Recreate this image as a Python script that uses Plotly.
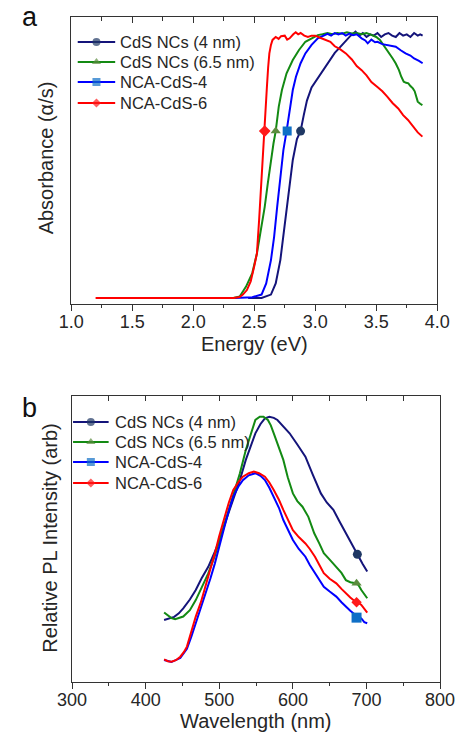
import plotly.graph_objects as go

# ---------------- data ----------------
series_names = ["CdS NCs (4 nm)", "CdS NCs (6.5 nm)", "NCA-CdS-4", "NCA-CdS-6"]
line_colors = ["#14147a", "#138a13", "#0000ff", "#ff0000"]
marker_colors = ["#1f3864", "#5b8c3e", "#0f6fc6", "#ff1a1a"]
marker_symbols = ["circle", "triangle-up", "square", "diamond"]

# Panel a: absorbance vs energy (eV)
abs_navy = [(2.45, 0.0), (2.56, 0.0), (2.637, 0.013), (2.676, 0.055), (2.714, 0.143), (2.739, 0.231),
            (2.765, 0.332), (2.791, 0.432), (2.816, 0.521), (2.85, 0.60), (2.88, 0.63), (2.906, 0.69),
            (2.932, 0.745), (2.97, 0.795), (3.0, 0.815), (3.04, 0.845), (3.08, 0.87), (3.12, 0.90),
            (3.16, 0.925), (3.2, 0.945), (3.25, 0.972), (3.29, 0.99), (3.33, 1.005), (3.36, 0.99),
            (3.39, 1.0), (3.42, 0.985), (3.45, 0.995), (3.48, 0.99), (3.51, 1.0), (3.54, 0.985),
            (3.57, 0.995), (3.6, 1.0), (3.63, 0.99), (3.66, 0.985), (3.69, 1.0), (3.72, 0.99),
            (3.75, 0.995), (3.78, 0.985), (3.81, 1.0), (3.84, 0.99), (3.86, 0.995), (3.88, 0.99)]
abs_green = [(2.33, 0.0), (2.381, 0.006), (2.433, 0.043), (2.484, 0.094), (2.522, 0.168), (2.56, 0.269),
             (2.586, 0.344), (2.611, 0.432), (2.637, 0.521), (2.658, 0.584), (2.676, 0.63), (2.701, 0.722),
             (2.727, 0.785), (2.765, 0.848), (2.816, 0.898), (2.867, 0.936), (2.919, 0.967), (2.97, 0.98),
             (3.021, 0.992), (3.06, 0.995), (3.10, 1.0), (3.14, 0.995), (3.18, 1.0), (3.22, 0.997),
             (3.26, 1.003), (3.30, 0.998), (3.34, 1.0), (3.38, 0.995), (3.42, 1.0), (3.46, 0.993),
             (3.50, 0.985), (3.53, 0.974), (3.56, 0.955), (3.584, 0.936), (3.61, 0.92), (3.635, 0.904),
             (3.66, 0.885), (3.686, 0.86), (3.705, 0.835), (3.725, 0.816), (3.745, 0.812), (3.763, 0.81),
             (3.78, 0.80), (3.80, 0.791), (3.815, 0.78), (3.83, 0.76), (3.84, 0.741), (3.86, 0.733),
             (3.878, 0.728)]
abs_blue = [(2.343, 0.0), (2.484, 0.003), (2.56, 0.013), (2.598, 0.055), (2.637, 0.143), (2.663, 0.231),
            (2.688, 0.344), (2.714, 0.458), (2.739, 0.558), (2.765, 0.63), (2.791, 0.709), (2.816, 0.785),
            (2.842, 0.835), (2.88, 0.886), (2.919, 0.923), (2.97, 0.955), (3.021, 0.98), (3.072, 0.992),
            (3.10, 0.997), (3.13, 0.99), (3.16, 1.0), (3.19, 0.995), (3.22, 1.0), (3.25, 0.99),
            (3.28, 0.998), (3.31, 0.992), (3.34, 0.995), (3.38, 0.98), (3.41, 0.972), (3.43, 0.961),
            (3.46, 0.975), (3.49, 0.965), (3.51, 0.967), (3.55, 0.958), (3.58, 0.955), (3.62, 0.952),
            (3.66, 0.948), (3.70, 0.935), (3.74, 0.923), (3.78, 0.915), (3.81, 0.904), (3.85, 0.895),
            (3.88, 0.886)]
abs_red = [(1.20, 0.0), (2.33, 0.0), (2.38, 0.004), (2.407, 0.013), (2.44, 0.03), (2.471, 0.063),
           (2.50, 0.12), (2.522, 0.168), (2.54, 0.294), (2.555, 0.42), (2.568, 0.546), (2.581, 0.63),
           (2.589, 0.70), (2.604, 0.797), (2.614, 0.87), (2.624, 0.923), (2.637, 0.955), (2.650, 0.974),
           (2.676, 0.985), (2.70, 0.978), (2.72, 0.988), (2.75, 0.99), (2.77, 0.975), (2.79, 0.98),
           (2.82, 0.995), (2.84, 1.003), (2.86, 0.995), (2.88, 1.0), (2.91, 0.99), (2.94, 0.985),
           (2.97, 0.99), (3.0, 0.99), (3.04, 0.982), (3.08, 0.975), (3.124, 0.967), (3.16, 0.95),
           (3.20, 0.94), (3.251, 0.923), (3.30, 0.90), (3.34, 0.875), (3.38, 0.86), (3.42, 0.84),
           (3.46, 0.815), (3.507, 0.797), (3.55, 0.78), (3.59, 0.76), (3.635, 0.735), (3.68, 0.715),
           (3.72, 0.69), (3.76, 0.672), (3.80, 0.65), (3.84, 0.625), (3.878, 0.609)]
abs_marker_x = [2.88, 2.676, 2.77, 2.586]
abs_marker_y = [0.63, 0.63, 0.63, 0.63]

# Panel b: PL intensity vs wavelength (nm)
pl_navy = [(425, 0.233), (432, 0.238), (438.7, 0.245), (445, 0.258), (451, 0.277), (460, 0.31),
           (468, 0.346), (476, 0.39), (485, 0.433), (494, 0.49), (502, 0.546), (510, 0.615),
           (519, 0.684), (528, 0.76), (536, 0.835), (543, 0.89), (549, 0.935), (556, 0.97),
           (562, 0.991), (568, 0.997), (574, 0.993), (579, 0.985), (587, 0.962), (595.5, 0.935),
           (606, 0.893), (617, 0.847), (627, 0.78), (638, 0.709), (646, 0.675), (655, 0.647),
           (663, 0.605), (672, 0.559), (680, 0.515), (689, 0.471), (695, 0.443), (701, 0.415)]
pl_green = [(425, 0.261), (430, 0.25), (435, 0.24), (440, 0.236), (446, 0.24), (451, 0.246),
            (460, 0.27), (468, 0.308), (476, 0.355), (485, 0.408), (494, 0.475), (502, 0.546),
            (510, 0.62), (519, 0.697), (528, 0.785), (536, 0.872), (543, 0.935), (549, 0.985),
            (555, 0.997), (560, 0.997), (566, 0.985), (570, 0.965), (574, 0.935), (580, 0.885),
            (587, 0.835), (593, 0.77), (600, 0.709), (606, 0.68), (613, 0.659), (621, 0.621),
            (629, 0.559), (636, 0.52), (642, 0.484), (650, 0.46), (659, 0.433), (666, 0.41),
            (672, 0.383), (678, 0.375), (685, 0.371), (689, 0.365), (693, 0.346), (697, 0.33),
            (701, 0.315)]
pl_blue = [(425, 0.083), (435, 0.075), (447, 0.09), (456, 0.125), (462, 0.17), (468, 0.221),
           (475, 0.275), (481, 0.333), (488, 0.39), (494, 0.446), (500, 0.515), (507, 0.584),
           (513, 0.645), (519, 0.697), (526, 0.735), (532, 0.759), (540, 0.777), (549, 0.785),
           (556, 0.775), (562, 0.759), (568, 0.73), (574, 0.697), (581, 0.655), (587, 0.609),
           (594, 0.57), (600, 0.534), (608, 0.5), (617, 0.471), (623, 0.44), (630, 0.409),
           (636, 0.38), (642, 0.358), (650, 0.34), (659, 0.321), (666, 0.3), (672, 0.283),
           (678, 0.268), (685, 0.252), (689, 0.245), (693, 0.239), (697, 0.225), (701, 0.221)]
pl_red = [(425, 0.085), (430, 0.078), (435, 0.076), (441, 0.082), (447, 0.095), (452, 0.113),
          (456, 0.133), (462, 0.19), (468, 0.246), (475, 0.30), (481, 0.358), (488, 0.42),
          (494, 0.484), (500, 0.55), (507, 0.621), (513, 0.675), (519, 0.722), (526, 0.752),
          (532, 0.772), (540, 0.785), (547, 0.791), (554, 0.785), (562, 0.772), (568, 0.75),
          (574, 0.722), (581, 0.685), (587, 0.647), (594, 0.605), (600, 0.571), (608, 0.545),
          (617, 0.521), (623, 0.5), (630, 0.471), (636, 0.44), (642, 0.409), (650, 0.388),
          (659, 0.371), (666, 0.35), (672, 0.333), (678, 0.318), (685, 0.302), (689, 0.298),
          (693, 0.29), (697, 0.275), (701, 0.261)]
pl_marker_x = [687.6, 686.5, 686.5, 686.5]
pl_marker_y = [0.48, 0.371, 0.242, 0.30]

energy_ticks = [1.0, 1.5, 2.0, 2.5, 3.0, 3.5, 4.0]
wavelength_ticks = [300, 400, 500, 600, 700, 800]

# ---------------- layout constants ----------------
W, H = 471, 736
FONT = "Arial, Liberation Sans, sans-serif"
TXT = "#262626"
AX = "#333333"

# legend key layout (page pixels): rows, line start/end, text start
LEG_A = dict(rows=[42, 62, 82, 103], x0=67, x1=107, text=110)
LEG_B = dict(rows=[422, 442, 462, 483], x0=62, x1=100, text=105)
SIZE_A = [9, 9, 9, 9]        # data marker sizes, panel a
SIZE_B = [9, 9, 10, 8]       # data marker sizes, panel b
SIZE_LEG = [8, 8, 8, 7]      # legend key marker sizes


def fx(p):
    return p / W


def fy(p):
    return 1 - p / H


fig = go.Figure()

abs_sets = [abs_navy, abs_green, abs_blue, abs_red]
pl_sets = [pl_navy, pl_green, pl_blue, pl_red]

for i in range(4):
    xs, ys = zip(*abs_sets[i])
    fig.add_trace(go.Scatter(x=list(xs), y=list(ys), mode="lines", xaxis="x", yaxis="y",
                             line=dict(color=line_colors[i], width=2), showlegend=False,
                             hoverinfo="skip"))
for i in range(4):
    fig.add_trace(go.Scatter(x=[abs_marker_x[i]], y=[abs_marker_y[i]], mode="markers",
                             xaxis="x", yaxis="y",
                             marker=dict(symbol=marker_symbols[i], color=marker_colors[i],
                                         size=SIZE_A[i], line=dict(width=0)),
                             showlegend=False, hoverinfo="skip"))
for i in range(4):
    xs, ys = zip(*pl_sets[i])
    fig.add_trace(go.Scatter(x=list(xs), y=list(ys), mode="lines", xaxis="x2", yaxis="y2",
                             line=dict(color=line_colors[i], width=2), showlegend=False,
                             hoverinfo="skip"))
for i in range(4):
    fig.add_trace(go.Scatter(x=[pl_marker_x[i]], y=[pl_marker_y[i]], mode="markers",
                             xaxis="x2", yaxis="y2",
                             marker=dict(symbol=marker_symbols[i], color=marker_colors[i],
                                         size=SIZE_B[i], line=dict(width=0)),
                             showlegend=False, hoverinfo="skip"))

# legend keys drawn on a full-page helper axis (page pixel coordinates)
annotations = []
for leg in (LEG_A, LEG_B):
    for i, row in enumerate(leg["rows"]):
        xm = (leg["x0"] + leg["x1"]) / 2
        fig.add_trace(go.Scatter(
            x=[leg["x0"], xm, leg["x1"]], y=[row] * 3,
            mode="lines+markers", xaxis="x5", yaxis="y5", showlegend=False, hoverinfo="skip",
            line=dict(color=line_colors[i], width=2),
            marker=dict(symbol=marker_symbols[i], color=marker_colors[i],
                        size=[0, SIZE_LEG[i], 0], line=dict(width=0)),
            cliponaxis=False))
        annotations.append(dict(text=series_names[i], x=fx(leg["text"]), y=fy(row),
                                xanchor="left", font=dict(size=16.5, color=TXT)))

# helpers for top (inside) ticks
fig.add_trace(go.Scatter(x=[None], y=[None], xaxis="x3", yaxis="y", showlegend=False, hoverinfo="skip"))
fig.add_trace(go.Scatter(x=[None], y=[None], xaxis="x4", yaxis="y2", showlegend=False, hoverinfo="skip"))

common_x = dict(showgrid=False, zeroline=False, showline=True, linecolor=AX, linewidth=1,
                mirror=True, ticks="outside", ticklen=6, tickwidth=1, tickcolor=AX,
                ticklabelstandoff=-5,
                tickfont=dict(family=FONT, size=18, color=TXT))
common_y = dict(showgrid=False, zeroline=False, showline=True, linecolor=AX, linewidth=1,
                mirror=True, ticks="", showticklabels=False)

fig.update_layout(
    width=W, height=H, margin=dict(l=0, r=0, t=0, b=0),
    paper_bgcolor="white", plot_bgcolor="rgba(0,0,0,0)",
    font=dict(family=FONT, color=TXT),
    showlegend=False,
    xaxis=dict(domain=[fx(60), fx(451)], range=[1.0, 4.0], anchor="y",
               tickvals=energy_ticks, ticktext=[f"{v:.1f}" for v in energy_ticks],
               minor=dict(dtick=0.25, tick0=1.0, ticks="outside", ticklen=3, tickcolor=AX),
               **common_x),
    yaxis=dict(domain=[fy(304), fy(17)], range=[-0.0226, 1.0604], anchor="x", **common_y),
    xaxis3=dict(overlaying="x", side="top", anchor="y", range=[1.0, 4.0], showgrid=False,
                zeroline=False, showline=False, showticklabels=False, ticks="inside",
                dtick=0.5, tick0=1.0, ticklen=6, tickcolor=AX,
                minor=dict(dtick=0.25, tick0=1.0, ticks="inside", ticklen=4, tickcolor=AX)),
    xaxis2=dict(domain=[fx(61), fx(454)], range=[300, 800], anchor="y2",
                tickvals=wavelength_ticks,
                minor=dict(dtick=50, tick0=300, ticks="outside", ticklen=3, tickcolor=AX),
                **common_x),
    yaxis2=dict(domain=[fy(682), fy(396)], range=[0, 1.0752], anchor="x2", **common_y),
    xaxis4=dict(overlaying="x2", side="top", anchor="y2", range=[300, 800], showgrid=False,
                zeroline=False, showline=False, showticklabels=False, ticks="inside",
                dtick=50, tick0=300, ticklen=5, tickcolor=AX),
    xaxis5=dict(domain=[0, 1], range=[0, W], visible=False, anchor="y5", fixedrange=True),
    yaxis5=dict(domain=[0, 1], range=[H, 0], visible=False, anchor="x5", fixedrange=True),
)

annotations += [
    dict(text="a", x=fx(16), y=1.0, yanchor="top", font=dict(size=27, color="#111111")),
    dict(text="b", x=fx(16), y=fy(408), font=dict(size=27, color="#111111")),
    dict(text="Energy (eV)", x=fx(255.5), y=fy(344), font=dict(size=20, color=TXT)),
    dict(text="Wavelength (nm)", x=fx(257.5), y=fy(721), font=dict(size=20, color=TXT)),
    dict(text="Absorbance (\u03b1/s)", x=fx(33.5), y=fy(158), textangle=-90,
         font=dict(size=20, color=TXT)),
    dict(text="Relative PL Intensity (arb)", x=fx(37), y=fy(538), textangle=-90,
         font=dict(size=20, color=TXT)),
]
for a in annotations:
    a.update(xref="paper", yref="paper", showarrow=False)
    a.setdefault("yanchor", "middle")
    a.setdefault("xanchor", "center")
    a["font"]["family"] = FONT
fig.update_layout(annotations=annotations)

# remove the browser's default page margin so the figure fills the window exactly
fig.write_html("out.html", config={"displayModeBar": False},
               post_script="document.body.style.margin='0px';")
